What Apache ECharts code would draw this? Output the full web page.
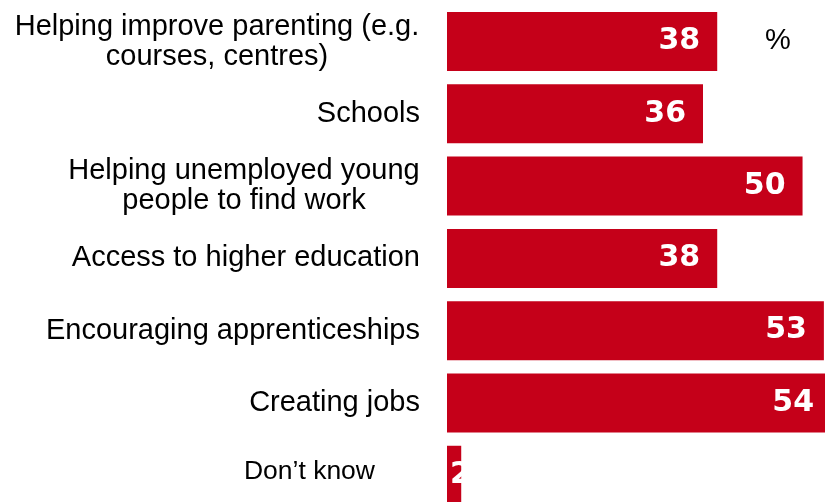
<!DOCTYPE html>
<html>
<head>
<meta charset="utf-8">
<script src="https://cdn.jsdelivr.net/npm/echarts@6/dist/echarts.min.js"></script>
<style>html,body{margin:0;padding:0;background:#fff;}#c{width:825px;height:502px;}</style>
</head>
<body>
<div id="c"></div>
<script>
const categories = [
  "Helping improve parenting (e.g.\ncourses, centres)",
  "Schools",
  "Helping unemployed young\npeople to find work",
  "Access to higher education",
  "Encouraging apprenticeships",
  "Creating jobs",
  "Don\u2019t know"
];
const values = [38, 36, 50, 38, 53, 54, 2];
const unitLabel = "%";

const chart = echarts.init(document.getElementById('c'), null, {renderer: 'canvas'});
const FF = 'Liberation Sans, Arial';
const richStyles = {
  w1: {width: 406, align: 'center', fontSize: 29, lineHeight: 30, fontFamily: FF, color: '#000'},
  w3: {width: 352, align: 'center', fontSize: 29, lineHeight: 30, fontFamily: FF, color: '#000'},
  n: {fontSize: 29, lineHeight: 31, fontFamily: FF, color: '#000'},
  dk: {fontSize: 26.5, lineHeight: 31, fontFamily: FF, color: '#000', padding: [0, 45, 8, 0]}
};
function fmt(v, i) {
  const lines = v.split('\n');
  if (lines.length > 1) {
    const key = i === 0 ? 'w1' : 'w3';
    return lines.map(l => '{' + key + '|' + l + '}').join('\n');
  }
  if (i === categories.length - 1) return '{dk|' + v + '}';
  return '{n|' + v + '}';
}
chart.setOption({
  animation: false,
  grid: {left: 447, right: -6, top: 5.4, bottom: -9.4, containLabel: false, outerBoundsMode: 'none'},
  xAxis: {type: 'value', min: 0, max: 54, show: false},
  yAxis: {
    type: 'category', inverse: true, data: categories,
    axisLine: {show: false}, axisTick: {show: false}, splitLine: {show: false},
    axisLabel: {margin: 27, formatter: fmt, rich: richStyles, fontSize: 29, lineHeight: 31, color: '#000', fontFamily: FF}
  },
  series: [{
    type: 'bar',
    data: values.map((v, i) => i === values.length - 1
      ? {value: v, label: {position: 'insideLeft', distance: 3}}
      : v),
    barCategoryGap: '18.4%',
    itemStyle: {color: '#C50019'},
    label: {
      show: true, position: 'insideRight', distance: 17,
      color: '#fff', fontWeight: 'bold', fontSize: 30, fontFamily: 'DejaVu Sans, Verdana'
    }
  }],
  graphic: [{
    type: 'text', left: 765, top: 26,
    style: {text: unitLabel, fontSize: 29, fontFamily: FF, fill: '#000'}
  }]
});
</script>
</body>
</html>
